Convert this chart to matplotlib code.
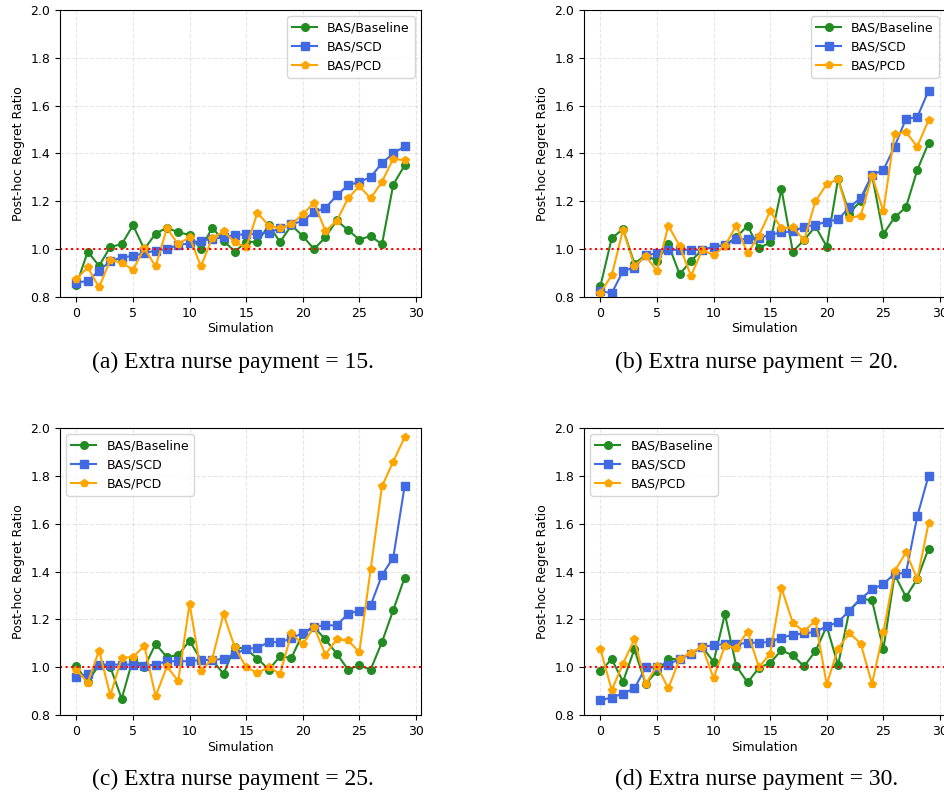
import numpy as np
import matplotlib
matplotlib.use("Agg")
import matplotlib.pyplot as plt

sims = np.arange(30)

# panel (a): extra nurse payment = 15
a_base = [0.85, 0.99, 0.93, 1.01, 1.02, 1.10, 1.00, 1.065, 1.09, 1.07,
          1.06, 1.00, 1.09, 1.035, 0.99, 1.03, 1.03, 1.10, 1.03, 1.10,
          1.055, 1.00, 1.05, 1.12, 1.08, 1.04, 1.055, 1.02, 1.27, 1.35]
a_scd = [0.86, 0.867, 0.91, 0.95, 0.965, 0.972, 0.983, 0.994, 1.00, 1.018,
         1.024, 1.035, 1.043, 1.049, 1.06, 1.062, 1.065, 1.069, 1.087, 1.104,
         1.118, 1.156, 1.171, 1.225, 1.267, 1.281, 1.301, 1.36, 1.40, 1.43]
a_pcd = [0.875, 0.924, 0.84, 0.955, 0.944, 0.914, 1.003, 0.928, 1.087, 1.02,
         1.051, 0.928, 1.046, 1.074, 1.03, 1.007, 1.153, 1.097, 1.087, 1.104,
         1.146, 1.194, 1.076, 1.118, 1.212, 1.264, 1.212, 1.282, 1.378, 1.371]

# panel (b): extra nurse payment = 20
b_base = [0.846, 1.046, 1.084, 0.94, 0.975, 0.951, 1.021, 0.895, 0.951, 0.997,
          1.01, 1.017, 1.049, 1.098, 1.004, 1.028, 1.251, 0.99, 1.038, 1.095,
          1.011, 1.293, 1.149, 1.203, 1.31, 1.063, 1.133, 1.175, 1.331, 1.444]
b_scd = [0.825, 0.816, 0.909, 0.923, 0.975, 0.982, 0.997, 0.997, 0.997, 0.997,
         1.01, 1.017, 1.042, 1.042, 1.046, 1.06, 1.07, 1.074, 1.094, 1.101,
         1.115, 1.124, 1.175, 1.214, 1.31, 1.331, 1.429, 1.545, 1.552, 1.663]
b_pcd = [0.818, 0.891, 1.081, 0.93, 0.972, 0.909, 1.098, 1.014, 0.888, 0.997,
         0.975, 1.014, 1.098, 0.982, 1.056, 1.158, 1.087, 1.091, 1.038, 1.20,
         1.272, 1.293, 1.13, 1.14, 1.307, 1.158, 1.482, 1.489, 1.429, 1.54]

# panel (c): extra nurse payment = 25
c_base = [1.003, 0.938, 1.011, 1.00, 0.868, 1.035, 1.00, 1.097, 1.042, 1.051,
          1.111, 1.03, 1.03, 0.972, 1.086, 1.075, 1.036, 0.99, 1.045, 1.039,
          1.14, 1.168, 1.116, 1.057, 0.99, 1.008, 0.99, 1.105, 1.239, 1.374]
c_scd = [0.961, 0.97, 1.011, 1.011, 1.011, 1.011, 1.006, 1.011, 1.025, 1.025,
         1.025, 1.03, 1.03, 1.035, 1.055, 1.077, 1.081, 1.105, 1.105, 1.12,
         1.144, 1.169, 1.175, 1.175, 1.223, 1.237, 1.258, 1.385, 1.458, 1.756]
c_pcd = [0.99, 0.935, 1.069, 0.882, 1.039, 1.042, 1.09, 0.878, 1.003, 0.942,
         1.266, 0.983, 1.035, 1.222, 1.083, 1.00, 0.976, 1.00, 0.972, 1.142,
         1.095, 1.168, 1.053, 1.116, 1.112, 1.063, 1.409, 1.756, 1.86, 1.961]

# panel (d): extra nurse payment = 30
d_base = [0.985, 1.033, 0.94, 1.075, 0.929, 0.985, 1.033, 1.035, 1.055, 1.085,
          1.022, 1.222, 1.006, 0.936, 0.997, 1.018, 1.071, 1.049, 1.004, 1.067,
          1.171, 1.008, 1.237, 1.286, 1.28, 1.074, 1.387, 1.294, 1.369, 1.496]
d_scd = [0.862, 0.873, 0.89, 0.911, 0.999, 0.999, 1.01, 1.036, 1.057, 1.085,
         1.092, 1.096, 1.096, 1.102, 1.102, 1.106, 1.123, 1.136, 1.141, 1.148,
         1.171, 1.188, 1.237, 1.286, 1.325, 1.348, 1.391, 1.394, 1.631, 1.801]
d_pcd = [1.075, 0.904, 1.015, 1.116, 0.929, 1.006, 0.911, 1.035, 1.06, 1.085,
         0.954, 1.09, 1.08, 1.149, 1.00, 1.056, 1.331, 1.185, 1.15, 1.195,
         0.928, 1.078, 1.143, 1.099, 0.93, 1.146, 1.401, 1.48, 1.369, 1.603]

payments = [15, 20, 25, 30]
letters = ["a", "b", "c", "d"]
panels = [(a_base, a_scd, a_pcd), (b_base, b_scd, b_pcd),
          (c_base, c_scd, c_pcd), (d_base, d_scd, d_pcd)]
legend_locs = ["upper right", "upper right", "upper left", "upper left"]

# axes boxes in figure fractions: left, bottom, width, height
boxes = [(0.0635, 0.6283, 0.382, 0.3592),
         (0.618, 0.6283, 0.382, 0.3592),
         (0.0635, 0.1051, 0.382, 0.3592),
         (0.618, 0.1051, 0.382, 0.3592)]
caption_pos = [(0.2466, 0.547), (0.801, 0.547), (0.2466, 0.025), (0.801, 0.025)]

fig = plt.figure(figsize=(9.45, 7.99), dpi=100)

for i in range(4):
    ax = fig.add_axes(boxes[i])
    base, scd, pcd = panels[i]
    ax.plot(sims, base, marker="o", color="forestgreen", lw=1.5, ms=5.5, label="BAS/Baseline")
    ax.plot(sims, scd, marker="s", color="royalblue", lw=1.5, ms=5.5, label="BAS/SCD")
    ax.plot(sims, pcd, marker="p", color="orange", lw=1.5, ms=5.5, label="BAS/PCD")
    ax.axhline(1.0, color="red", ls=":", lw=1.5)
    ax.set_ylim(0.8, 2.0)
    ax.set_yticks(np.arange(0.8, 2.01, 0.2))
    ax.set_xticks(range(0, 31, 5))
    ax.tick_params(labelsize=9)
    ax.grid(True, ls="--", alpha=0.3)
    ax.set_xlabel("Simulation", fontsize=9, labelpad=2)
    ax.set_ylabel("Post-hoc Regret Ratio", fontsize=9)
    ax.legend(loc=legend_locs[i], fontsize=9)
    fig.text(caption_pos[i][0], caption_pos[i][1],
             "(%s) Extra nurse payment = %d." % (letters[i], payments[i]),
             ha="center", va="center", fontsize=17, family="Liberation Serif")

fig.savefig("out.png", dpi=100)
